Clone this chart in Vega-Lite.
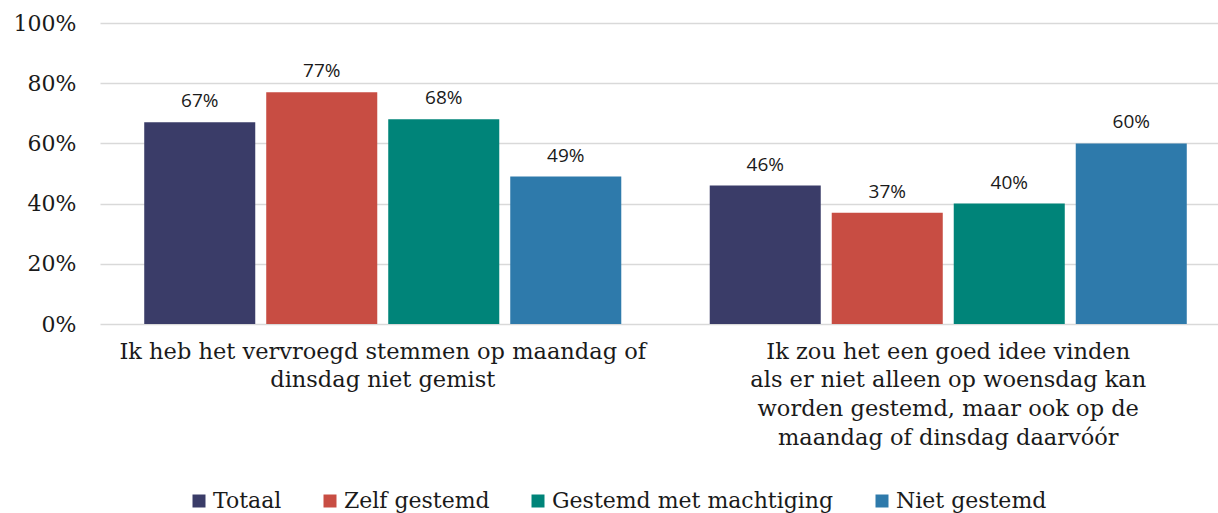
{
  "$schema": "https://vega.github.io/schema/vega-lite/v6.json",
  "autosize": {"type": "none"},
  "padding": {"left": 100, "top": 23, "right": 0, "bottom": 189},
  "width": 1118,
  "height": 301,
  "background": "white",
  "config": {"view": {"stroke": null}},
  "data": {
    "values": [
      {"vraag": "Ik heb het vervroegd stemmen op maandag of|dinsdag niet gemist", "groep": "Totaal", "waarde": 0.67},
      {"vraag": "Ik heb het vervroegd stemmen op maandag of|dinsdag niet gemist", "groep": "Zelf gestemd", "waarde": 0.77},
      {"vraag": "Ik heb het vervroegd stemmen op maandag of|dinsdag niet gemist", "groep": "Gestemd met machtiging", "waarde": 0.68},
      {"vraag": "Ik heb het vervroegd stemmen op maandag of|dinsdag niet gemist", "groep": "Niet gestemd", "waarde": 0.49},
      {"vraag": "Ik zou het een goed idee vinden|als er niet alleen op woensdag kan|worden gestemd, maar ook op de|maandag of dinsdag daarvóór", "groep": "Totaal", "waarde": 0.46},
      {"vraag": "Ik zou het een goed idee vinden|als er niet alleen op woensdag kan|worden gestemd, maar ook op de|maandag of dinsdag daarvóór", "groep": "Zelf gestemd", "waarde": 0.37},
      {"vraag": "Ik zou het een goed idee vinden|als er niet alleen op woensdag kan|worden gestemd, maar ook op de|maandag of dinsdag daarvóór", "groep": "Gestemd met machtiging", "waarde": 0.40},
      {"vraag": "Ik zou het een goed idee vinden|als er niet alleen op woensdag kan|worden gestemd, maar ook op de|maandag of dinsdag daarvóór", "groep": "Niet gestemd", "waarde": 0.60}
    ]
  },
  "encoding": {
    "x": {
      "field": "vraag", "type": "nominal", "sort": null,
      "scale": {"range": [0, 1131], "paddingInner": 0, "paddingOuter": 0},
      "axis": {
        "title": null, "labelAngle": 0, "labelLimit": 0, "ticks": false, "domain": false,
        "labelExpr": "split(datum.label, '|')",
        "labelFont": "DejaVu Serif", "labelFontSize": 22.5, "labelColor": "#1a1a1a",
        "labelLineHeight": 28.8, "labelPadding": 16, "labelBaseline": "top"
      }
    },
    "xOffset": {
      "field": "groep", "type": "nominal",
      "sort": ["Totaal", "Zelf gestemd", "Gestemd met machtiging", "Niet gestemd"],
      "scale": {"paddingInner": 0.09, "paddingOuter": 0.3625}
    },
    "y": {
      "field": "waarde", "type": "quantitative",
      "scale": {"domain": [0, 1], "nice": false},
      "axis": {
        "title": null, "format": ".0%", "values": [0, 0.2, 0.4, 0.6, 0.8, 1],
        "domain": false, "ticks": false, "grid": true, "gridColor": "#d9d9d9", "gridWidth": 1.5,
        "labelFont": "DejaVu Serif", "labelFontSize": 22, "labelColor": "#1a1a1a", "labelPadding": 24
      }
    }
  },
  "layer": [
    {
      "mark": {"type": "bar"},
      "encoding": {
        "color": {
          "field": "groep", "type": "nominal",
          "sort": ["Totaal", "Zelf gestemd", "Gestemd met machtiging", "Niet gestemd"],
          "scale": {
            "domain": ["Totaal", "Zelf gestemd", "Gestemd met machtiging", "Niet gestemd"],
            "range": ["#3a3c68", "#c84d43", "#008479", "#2e7aab"]
          },
          "legend": {
            "title": null, "orient": "none", "legendX": 88, "legendY": 467, "direction": "horizontal",
            "symbolType": "square", "symbolSize": 169, "symbolStrokeWidth": 0,
            "labelFont": "DejaVu Serif", "labelFontSize": 22, "labelColor": "#1a1a1a",
            "columnPadding": 37, "labelOffset": 3, "labelLimit": 0
          }
        }
      }
    },
    {
      "mark": {"type": "text", "baseline": "alphabetic", "dy": -15, "font": "Open Sans", "fontSize": 19, "color": "#1a1a1a"},
      "encoding": {
        "text": {"field": "waarde", "type": "quantitative", "format": ".0%"}
      }
    }
  ]
}
